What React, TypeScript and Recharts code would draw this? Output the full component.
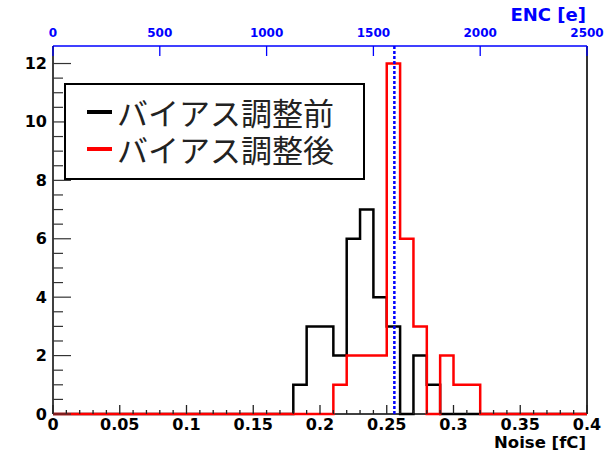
import { ComposedChart, Line, XAxis, YAxis, ReferenceLine, Legend } from 'recharts'

// histogram: 40 bins of 0.01 fC from 0 to 0.4
const binWidth = 0.01
const countsBefore = [
  0, 0, 0, 0, 0, 0, 0, 0, 0, 0,
  0, 0, 0, 0, 0, 0, 0, 0, 1, 3,
  3, 2, 6, 7, 4, 3, 0, 2, 1, 0,
  0, 0, 0, 0, 0, 0, 0, 0, 0, 0,
]
const countsAfter = [
  0, 0, 0, 0, 0, 0, 0, 0, 0, 0,
  0, 0, 0, 0, 0, 0, 0, 0, 0, 0,
  0, 1, 2, 2, 2, 12, 6, 3, 0, 2,
  1, 1, 0, 0, 0, 0, 0, 0, 0, 0,
]
const encPerFc = 6250
const meanNoise = 0.2557

const noiseLabels = [0, 0.05, 0.1, 0.15, 0.2, 0.25, 0.3, 0.35, 0.4]
const encTicks = [0, 500, 1000, 1500, 2000, 2500]
const countLabels = [0, 2, 4, 6, 8, 10, 12]
const countMinorStep = 0.5
const countMax = 12.6

const seriesNames = ['バイアス調整前', 'バイアス調整後']
const seriesColors = ['#000000', '#ff0000']

const edges = countsBefore.map((_, i) => i).concat([countsBefore.length]).map((i) => Math.round(i * binWidth * 100) / 100)
const rows = edges.map((x, i) => ({
  noise: x,
  enc: x * encPerFc,
  before: countsBefore[Math.min(i, countsBefore.length - 1)],
  after: countsAfter[Math.min(i, countsAfter.length - 1)],
}))
const countTicks: number[] = []
for (let v = 0; v <= 12; v += countMinorStep) countTicks.push(v)

const font = '"DejaVu Sans", sans-serif'

const isMajor = (v: number, list: number[]) => list.some((m) => Math.abs(m - v) < 1e-6)

const BottomTick = (props: any) => {
  const { x, y, payload } = props
  const v = payload.value as number
  const major = isMajor(v, noiseLabels)
  return (
    <g>
      <line x1={x} x2={x} y1={y} y2={y - (major ? 9 : 4)} stroke="#222" strokeWidth={1.3} />
      {major && (
        <text x={x} y={y + 10} textAnchor="middle" dominantBaseline="central" fontFamily={font} fontWeight="bold" fontSize={16} fill="#000">
          {String(v)}
        </text>
      )}
    </g>
  )
}

const LeftTick = (props: any) => {
  const { x, y, payload } = props
  const v = payload.value as number
  const major = isMajor(v, countLabels)
  return (
    <g>
      <line x1={x} x2={x + (major ? 18 : 10)} y1={y} y2={y} stroke="#333" strokeWidth={1.2} />
      {major && (
        <text x={x - 6} y={y} textAnchor="end" dominantBaseline="central" fontFamily={font} fontWeight="bold" fontSize={16} fill="#000">
          {String(v)}
        </text>
      )}
    </g>
  )
}

const TopTick = (props: any) => {
  const { x, y, payload } = props
  return (
    <g>
      <line x1={x} x2={x} y1={y} y2={y + 10} stroke="#0000ff" strokeWidth={1.3} />
      <text x={x} y={y - 13} textAnchor="middle" dominantBaseline="central" fontFamily={font} fontWeight="bold" fontSize={12} fill="#0000ff">
        {String(payload.value)}
      </text>
    </g>
  )
}

const LegendBox = () => (
  <div
    style={{
      boxSizing: 'border-box',
      width: 301,
      height: 97,
      border: '2px solid #000',
      background: '#fff',
      fontFamily: '"Noto Sans CJK JP", sans-serif',
      fontSize: 31,
      color: '#222',
      paddingTop: 8,
    }}
  >
    {seriesNames.map((name, i) => (
      <div key={name} style={{ display: 'flex', alignItems: 'center', height: 37, lineHeight: '37px' }}>
        <span style={{ display: 'inline-block', width: 25, height: 4, marginLeft: 21, marginRight: 5, background: seriesColors[i] }} />
        <span>{name}</span>
      </div>
    ))}
  </div>
)

export default function App() {
  return (
    <div style={{ position: 'absolute', left: 0, top: 0, width: 615, height: 452, background: '#fff' }}>
      <ComposedChart width={615} height={452} data={rows} margin={{ top: 0, right: 28, bottom: 0, left: 0 }}>
        <XAxis
          xAxisId="noise"
          dataKey="noise"
          type="number"
          domain={[0, 0.4]}
          ticks={edges}
          interval={0}
          height={38}
          tickSize={0}
          tickMargin={0}
          tickLine={false}
          tick={<BottomTick />}
          axisLine={false}
          label={{
            content: (p: any) => (
              <text x={p.viewBox.x + p.viewBox.width - 1} y={p.viewBox.y + 34} textAnchor="end" fontFamily={font} fontWeight="bold" fontSize={16.5} fill="#000">
                Noise [fC]
              </text>
            ),
          }}
        />
        <XAxis
          xAxisId="enc"
          dataKey="enc"
          type="number"
          orientation="top"
          domain={[0, 2500]}
          ticks={encTicks}
          interval={0}
          height={46}
          tickSize={0}
          tickMargin={0}
          tickLine={false}
          tick={<TopTick />}
          axisLine={{ stroke: '#0000ff', strokeWidth: 1.5 }}
          label={{
            content: (p: any) => (
              <text x={p.viewBox.x + p.viewBox.width - 1} y={21} textAnchor="end" fontFamily={font} fontWeight="bold" fontSize={18} fill="#0000ff">
                ENC [e]
              </text>
            ),
          }}
        />
        <YAxis
          type="number"
          domain={[0, countMax]}
          ticks={countTicks}
          interval={0}
          width={53}
          tickSize={0}
          tickMargin={0}
          tickLine={false}
          tick={<LeftTick />}
          axisLine={{ stroke: '#000', strokeWidth: 1.5 }}
        />
        <ReferenceLine xAxisId="noise" y={0} stroke="#000" strokeWidth={1.5} zIndex={300} />
        <ReferenceLine xAxisId="noise" x={0.4} stroke="#333" strokeWidth={2} zIndex={300} />
        <Line xAxisId="enc" dataKey="after" stroke="none" dot={false} activeDot={false} isAnimationActive={false} legendType="none" />
        <Line xAxisId="noise" type="stepAfter" dataKey="before" stroke={seriesColors[0]} strokeWidth={2.5} dot={false} activeDot={false} isAnimationActive={false} zIndex={600} />
        <Line xAxisId="noise" type="stepAfter" dataKey="after" stroke={seriesColors[1]} strokeWidth={2.5} dot={false} activeDot={false} isAnimationActive={false} zIndex={610} />
        <ReferenceLine xAxisId="noise" x={meanNoise} stroke="#0000ff" strokeWidth={2.5} strokeDasharray="3 2" zIndex={700} />
        <Legend
          layout="vertical"
          align="center"
          verticalAlign="middle"
          wrapperStyle={{ left: 64, top: 83, width: 301, height: 97 }}
          content={() => <LegendBox />}
        />
      </ComposedChart>
    </div>
  )
}
